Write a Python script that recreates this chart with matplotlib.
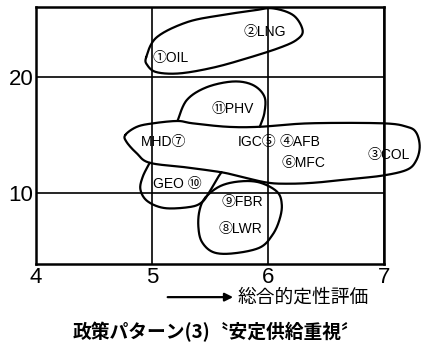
import numpy as np
import matplotlib
matplotlib.use("Agg")
import matplotlib.pyplot as plt

plt.rcParams['font.family'] = ['Liberation Sans', 'Noto Sans CJK JP', 'DejaVu Sans']

# technology labels and their positions (x: 総合的定性評価)
labels = ['①OIL', '②LNG', '⑪PHV', 'MHD⑦', 'IGC⑤', '④AFB', '⑥MFC', '③COL',
          'GEO ⑩', '⑨FBR', '⑧LWR']
lab_x = [5.16, 5.97, 5.70, 5.10, 5.91, 6.28, 6.31, 7.04, 5.22, 5.78, 5.76]
lab_y = [21.6, 23.9, 17.2, 14.4, 14.4, 14.4, 12.6, 13.3, 10.8, 9.2, 6.9]

xticks = [4, 5, 6, 7]
yticks = [10, 20]

# grouping outlines (drawn by hand in the original)
oil_x = [4.95, 5.04, 5.30, 5.59, 5.87, 6.04, 6.22, 6.30, 6.25, 6.10, 5.82, 5.53, 5.24, 5.04, 4.96]
oil_y = [21.7, 23.4, 24.7, 25.3, 25.7, 25.9, 25.3, 24.0, 23.2, 22.5, 21.6, 20.8, 20.3, 20.4, 21.0]

big_x = [4.77, 4.87, 5.01, 5.22, 5.35, 5.65, 5.93, 6.36, 6.99, 7.20, 7.28, 7.31, 7.28, 7.20,
         6.99, 6.71, 6.42, 6.19, 5.99, 5.73, 5.59, 5.30, 4.98, 4.87, 4.78]
big_y = [15.0, 15.7, 16.0, 16.2, 16.0, 15.7, 15.7, 16.0, 16.0, 15.7, 15.2, 14.0, 12.8, 12.0,
         11.5, 11.2, 10.9, 10.8, 10.9, 11.5, 11.8, 12.2, 12.6, 13.4, 14.4]

phv_x = [5.22, 5.30, 5.47, 5.70, 5.87, 5.97, 5.97, 5.93]
phv_y = [16.2, 18.0, 19.1, 19.6, 19.3, 18.3, 16.9, 15.7]

geo_x = [4.98, 4.92, 4.90, 4.96, 5.11, 5.33, 5.43, 5.49, 5.56, 5.60]
geo_y = [12.6, 11.4, 10.3, 9.3, 8.7, 8.8, 9.2, 10.0, 11.2, 11.8]

lwr_x = [5.46, 5.59, 5.76, 5.93, 6.08, 6.12, 6.10, 6.04, 5.93, 5.70, 5.53, 5.43, 5.40, 5.41]
lwr_y = [9.6, 10.6, 11.0, 10.9, 10.1, 9.0, 7.7, 6.4, 5.3, 4.8, 4.9, 5.8, 7.1, 8.5]


def catmull(xs, ys, closed=True, n=24):
    p = np.column_stack([xs, ys]).astype(float)
    if closed:
        p = np.vstack([p[-1], p, p[0], p[1]])
    else:
        p = np.vstack([p[0], p, p[-1]])
    t = np.linspace(0, 1, n, endpoint=False)[:, None]
    out = []
    for i in range(1, len(p) - 2):
        p0, p1, p2, p3 = p[i - 1], p[i], p[i + 1], p[i + 2]
        seg = 0.5 * (2 * p1 + (-p0 + p2) * t + (2 * p0 - 5 * p1 + 4 * p2 - p3) * t ** 2
                     + (-p0 + 3 * p1 - 3 * p2 + p3) * t ** 3)
        out.append(seg)
    out.append(p[-2][None, :])
    out = np.vstack(out)
    return out[:, 0], out[:, 1]


fig = plt.figure(figsize=(4.25, 3.58), dpi=100)
ax = fig.add_axes([0.085, 0.263, 0.818, 0.717])
ax.set_xlim(4, 7)
ax.set_ylim(3.9, 26)
ax.set_xticks(xticks)
ax.set_yticks(yticks)
ax.set_xticklabels([str(v) for v in xticks])
ax.set_yticklabels([str(v) for v in yticks])
ax.tick_params(length=0, pad=2, labelsize=16)
ax.grid(True, color='black', lw=1.2)
for s in ax.spines.values():
    s.set_linewidth(1.8)

for xs, ys, closed in [(oil_x, oil_y, True), (big_x, big_y, True), (phv_x, phv_y, False),
                       (geo_x, geo_y, False), (lwr_x, lwr_y, True)]:
    sx, sy = catmull(xs, ys, closed)
    ax.plot(sx, sy, color='black', lw=1.6, clip_on=False, solid_capstyle='round')

for t, x, y in zip(labels, lab_x, lab_y):
    ax.text(x, y, t, ha='center', va='center', fontsize=10)

ax.annotate('', xy=(0.555, 0.170), xytext=(0.388, 0.170), xycoords='figure fraction',
            arrowprops=dict(arrowstyle='-|>', color='black', lw=1.6, mutation_scale=12))
fig.text(0.558, 0.170, '総合的定性評価', fontsize=13.5, ha='left', va='center',
         family=['Noto Sans CJK JP', 'DejaVu Sans'])
fig.text(0.51, 0.073, '政策パターン(3)〝安定供給重視〞', fontsize=13.5, ha='center', va='center',
         family=['Noto Sans CJK JP', 'DejaVu Sans'], fontweight='bold')

fig.savefig('out.png', dpi=100, facecolor='white')
